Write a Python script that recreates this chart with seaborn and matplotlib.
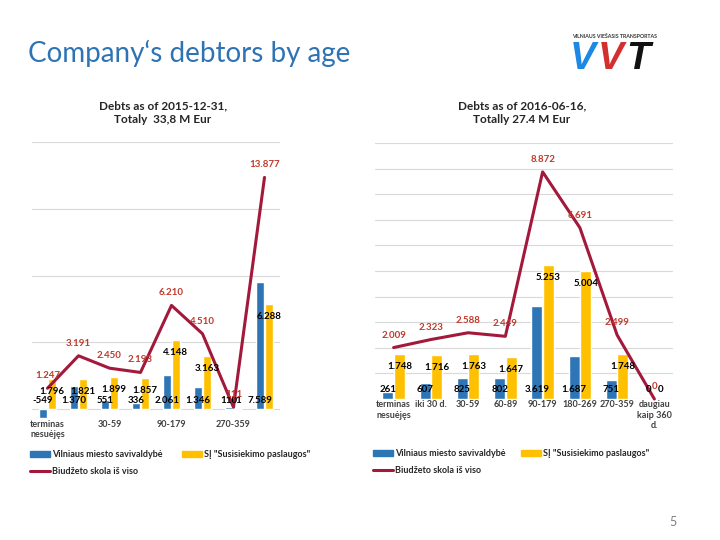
import numpy as np
import pandas as pd
import matplotlib
matplotlib.use("Agg")
import matplotlib.pyplot as plt
import seaborn as sns
from matplotlib.patches import Patch
from matplotlib.lines import Line2D

sns.set_theme(style="white")
plt.rcParams["font.family"] = ["Lato", "DejaVu Sans"]

# categories (debt age)
categories = ["terminas\nnesuėjęs", "iki 30 d.", "30-59", "60-89", "90-179",
              "180-269", "270-359", "daugiau\nkaip 360\nd."]
series_names = ["Vilniaus miesto savivaldybė", "SĮ \"Susisiekimo paslaugos\""]
line_name = "Biudžeto skola iš viso"

# 2015-12-31, thousand EUR
city_2015 = [-549, 1370, 551, 336, 2061, 1346, 110, 7589]
sp_2015 = [1796, 1821, 1899, 1857, 4148, 3163, 1, 6288]
total_2015 = [1247, 3191, 2450, 2193, 6210, 4510, 111, 13877]

# 2016-06-16, thousand EUR
city_2016 = [261, 607, 825, 802, 3619, 1687, 751, 0]
sp_2016 = [1748, 1716, 1763, 1647, 5253, 5004, 1748, 0]
total_2016 = [2009, 2323, 2588, 2449, 8872, 6691, 2499, 0]

BLUE = "#2E75B6"
YELLOW = "#FFC000"
LINE = "#A3193B"
LBL_RED = "#C0392B"


def fmt(v):
    return f"{v:,}".replace(",", ".")


def draw(ax, city, sp, total, ylim, grid_step, show_every, bar_w):
    df = pd.DataFrame({
        "cat": categories * 2,
        "val": city + sp,
        "series": [series_names[0]] * 8 + [series_names[1]] * 8,
    })
    sns.barplot(data=df, x="cat", y="val", hue="series", order=categories,
                hue_order=series_names, palette=[BLUE, YELLOW], saturation=1,
                width=bar_w, gap=0.05, ax=ax, legend=False, zorder=2)
    sns.lineplot(x=np.arange(len(total)), y=total, ax=ax, color=LINE,
                 lw=2.2, zorder=3, clip_on=False)
    ax.set_xlim(-0.5, 7.5)
    ax.set_ylim(*ylim)
    for g in np.arange(0, ylim[1] + 1, grid_step):
        ax.axhline(g, color="#D9D9D9", lw=0.8, zorder=0)
    for s in ax.spines.values():
        s.set_visible(False)
    ax.set_yticks([])
    ax.set_xlabel("")
    ax.set_ylabel("")
    labels = [c if i % show_every == 0 else "" for i, c in enumerate(categories)]
    ax.set_xticks(range(8))
    ax.set_xticklabels(labels, fontsize=6.5, fontweight="bold", color="#404040")
    ax.tick_params(axis="x", length=0, pad=1)

    blue_bars, yel_bars = ax.containers[0], ax.containers[1]
    for bar, v in zip(blue_bars, city):
        x = bar.get_x() + bar.get_width() / 2
        ax.annotate(fmt(v), (x, 0), xytext=(0, 6.5), textcoords="offset points",
                    ha="center", va="center", fontsize=7, fontweight="bold",
                    color="black", zorder=5)
    for bar, v in zip(yel_bars, sp):
        x = bar.get_x() + bar.get_width() / 2
        if v < 1000:
            ax.annotate(fmt(v), (x, 0), xytext=(0, 6.5), textcoords="offset points",
                        ha="center", va="center", fontsize=7, fontweight="bold",
                        color="black", zorder=5)
        else:
            ax.annotate(fmt(v), (x, v), xytext=(0, -9), textcoords="offset points",
                        ha="center", va="center", fontsize=7, fontweight="bold",
                        color="black", zorder=5)
    for i, v in enumerate(total):
        ax.annotate(fmt(v), (i, v), xytext=(0, 9), textcoords="offset points",
                    ha="center", va="center", fontsize=7, fontweight="bold",
                    color=LBL_RED, zorder=6)


fig = plt.figure(figsize=(7.2, 5.4), dpi=100)

ax1 = fig.add_axes([32 / 720, 1 - 418.4 / 540, 248 / 720, 276.4 / 540])
draw(ax1, city_2015, sp_2015, total_2015, (-560, 16000), 4000, 2, 0.56)

ax2 = fig.add_axes([375 / 720, 1 - 399 / 540, 298 / 720, 256 / 540])
draw(ax2, city_2016, sp_2016, total_2016, (0, 10000), 1000, 1, 0.62)

# titles
fig.text(28 / 720, 1 - 53 / 540, "Company‘s debtors by age", fontsize=20,
         color="#2E74B5", ha="left", va="center")
fig.text(163 / 720, 1 - 113 / 540, "Debts as of 2015-12-31,\nTotaly  33,8 M Eur",
         fontsize=8.5, fontweight="bold", ha="center", va="center",
         color="#262626", linespacing=1.3)
fig.text(522 / 720, 1 - 113 / 540, "Debts as of 2016-06-16,\nTotally 27.4 M Eur",
         fontsize=8.5, fontweight="bold", ha="center", va="center",
         color="#262626", linespacing=1.3)

# logo
fig.text(572 / 720, 1 - 37 / 540, "VILNIAUS VIEŠASIS TRANSPORTAS", fontsize=3.8,
         fontweight="bold", color="#333333", ha="left", va="center")
for x, ch, c in [(570, "V", "#1E88E5"), (598, "V", "#D32F2F"), (626, "T", "#111111")]:
    fig.text(x / 720, 1 - 59 / 540, ch, fontsize=28, fontweight="bold",
             fontstyle="italic", color=c, ha="left", va="center",
             family="Liberation Sans")

# legends
handles = [Patch(color=BLUE), Line2D([], [], color=LINE, lw=2.2), Patch(color=YELLOW)]
names = [series_names[0], line_name, series_names[1]]
for ax, (lx, ly), cs in [(ax1, (30, 450), 2.2), (ax2, (373, 449), 1.8)]:
    ax.legend(handles, names, ncol=2, loc="upper left",
              bbox_to_anchor=(lx / 720, 1 - ly / 540), bbox_transform=fig.transFigure,
              frameon=False, borderaxespad=0, borderpad=0, handlelength=2.2,
              handleheight=0.6, handletextpad=0.2, columnspacing=cs,
              labelspacing=0.9, prop={"size": 6.5, "weight": "bold"})

fig.text(673 / 720, 1 - 522 / 540, "5", fontsize=9, color="#7F7F7F",
         ha="center", va="center")

fig.savefig("out.png", dpi=100)
